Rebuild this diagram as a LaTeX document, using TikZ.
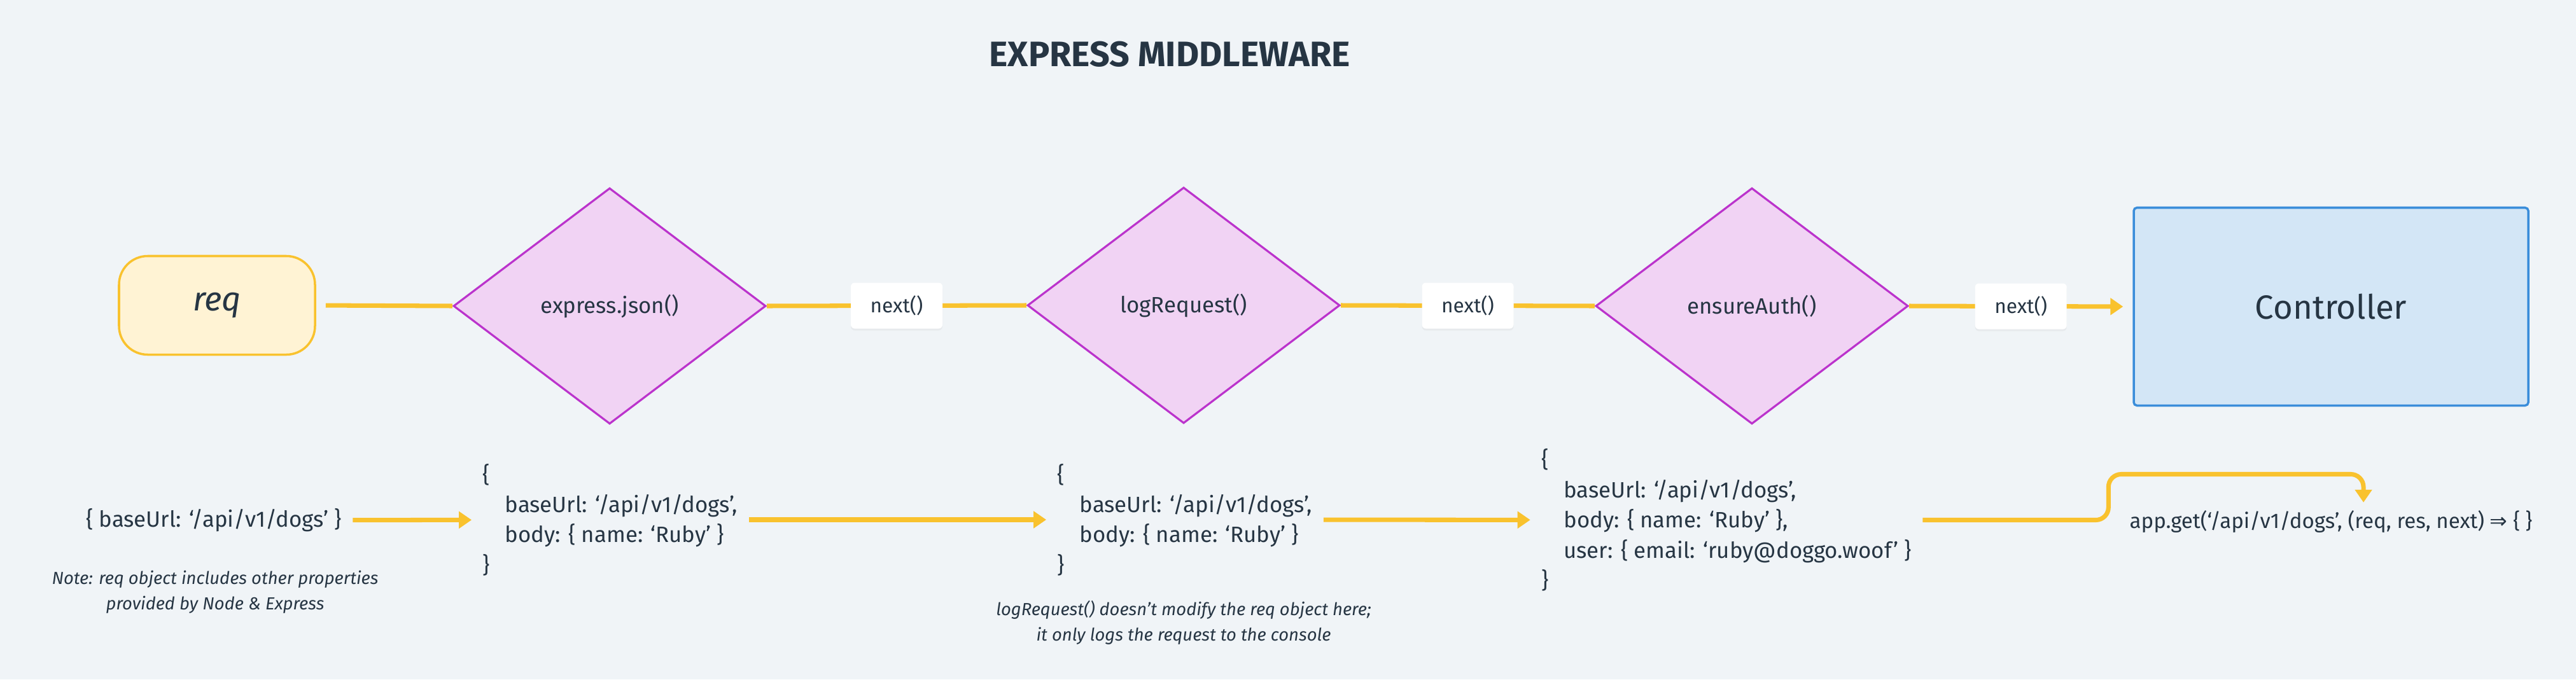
\documentclass[tikz,border=0pt]{standalone}
\usepackage{fontspec}
\setmainfont{Fira Sans}
\newfontfamily\arrowfont{DejaVu Sans}
\usetikzlibrary{shapes.geometric,arrows.meta,shadows}

\definecolor{wsbg}{RGB}{240,244,247}
\definecolor{wstext}{RGB}{38,53,67}
\definecolor{wsyellow}{RGB}{249,194,46}
\definecolor{wscream}{RGB}{255,243,212}
\definecolor{wspurple}{RGB}{187,51,204}
\definecolor{wspink}{RGB}{241,211,244}
\definecolor{wsblue}{RGB}{58,141,218}
\definecolor{wslightblue}{RGB}{211,230,246}

\tikzset{
  flow/.style={draw=wsyellow, line width=2pt},
  flowarrow/.style={flow, -{Triangle[width=0.26cm,length=0.2cm]}},
  middleware/.style={diamond, draw=wspurple, fill=wspink, line width=0.9pt,
    minimum width=4.91cm, minimum height=3.71cm, inner sep=0pt, text=wstext,
    font=\fontsize{9.9}{11}\selectfont},
  nextbox/.style={fill=white, rounded corners=0.06cm, minimum width=1.44cm,
    minimum height=0.72cm, inner sep=0pt, text=wstext,
    drop shadow={shadow xshift=0pt, shadow yshift=-0.03cm, opacity=0.08},
    font=\fontsize{9}{11}\selectfont},
  reqobject/.style={align=left, inner xsep=0.17cm, inner ysep=0pt, text=wstext,
    font=\fontsize{9.9}{13.5}\selectfont},
  note/.style={align=center, inner sep=0pt, text=wstext,
    font=\itshape\fontsize{7.8}{11.4}\selectfont}
}

\begin{document}
\begin{tikzpicture}
    \useasboundingbox (0,0) rectangle (40.48,-10.68);
    \fill [wsbg] (0,0) rectangle (40.48,-10.68);

    \node (title) at (18.38,-0.85) [text=wstext, font=\bfseries\fontsize{15.8}{18}\selectfont] {EXPRESS MIDDLEWARE};

    % top row
    \node (req) at (3.41,-4.80) [draw=wsyellow, fill=wscream, line width=1pt, rounded corners=0.45cm,
      minimum width=3.08cm, minimum height=1.55cm, text=wstext, font=\itshape\fontsize{15}{17}\selectfont] {req};
    \node (express) at (9.58,-4.81) [middleware] {express.json()};
    \node (logreq) at (18.60,-4.80) [middleware] {logRequest()};
    \node (ensureauth) at (27.53,-4.81) [middleware] {ensureAuth()};
    \node (controller) at (36.63,-4.82) [draw=wsblue, fill=wslightblue, line width=1pt, rounded corners=0.05cm,
      minimum width=6.20cm, minimum height=3.11cm, text=wstext, font=\fontsize{15}{17}\selectfont] {Controller};

    \draw [flow, shorten <=0.15cm] (req.east) -- (express.west);
    \draw [flow] (express.east) -- node (next1) [nextbox] {next()} (logreq.west);
    \draw [flow] (logreq.east) -- node (next2) [nextbox] {next()} (ensureauth.west);
    \draw [flowarrow, shorten >=0.15cm] (ensureauth.east) -- node (next3) [nextbox] {next()} (controller.west);

    % bottom row
    \node (reqobj) at (3.36,-8.18) [reqobject] {\{ baseUrl: ‘/api/v1/dogs’ \}};
    \node (note1) at (3.38,-9.31) [note] {Note: req object includes other properties\\provided by Node \& Express};

    \node (jsonobj) at (9.59,-8.17) [reqobject] {\{\\\hspace*{0.35cm}baseUrl: ‘/api/v1/dogs’,\\\hspace*{0.35cm}body: \{ name: ‘Ruby’ \}\\\}};
    \node (logobj) at (18.62,-8.17) [reqobject] {\{\\\hspace*{0.35cm}baseUrl: ‘/api/v1/dogs’,\\\hspace*{0.35cm}body: \{ name: ‘Ruby’ \}\\\}};
    \node (note2) at (18.60,-9.79) [note] {logRequest() doesn’t modify the req object here;\\it only logs the request to the console};

    \node (authobj) at (27.13,-8.175) [reqobject] {\{\\\hspace*{0.35cm}baseUrl: ‘/api/v1/dogs’,\\\hspace*{0.35cm}body: \{ name: ‘Ruby’ \},\\\hspace*{0.35cm}user: \{ email: ‘ruby@doggo.woof’ \}\\\}};
    \node (appget) at (36.63,-8.20) [text=wstext, inner sep=0.12cm, font=\fontsize{9.4}{11}\selectfont] {app.get(‘/api/v1/dogs’, (req, res, next) {\arrowfont ⇒} \{ \}};

    \draw [flowarrow] (reqobj) -- (jsonobj);
    \draw [flowarrow] (jsonobj) -- (logobj);
    \draw [flowarrow] (logobj) -- (authobj);
    \draw [flowarrow, rounded corners=0.2cm] (authobj.east) -- ++(2.92,0) -- ++(0,0.72) -| ([xshift=0.51cm]appget.north);
\end{tikzpicture}
\end{document}
